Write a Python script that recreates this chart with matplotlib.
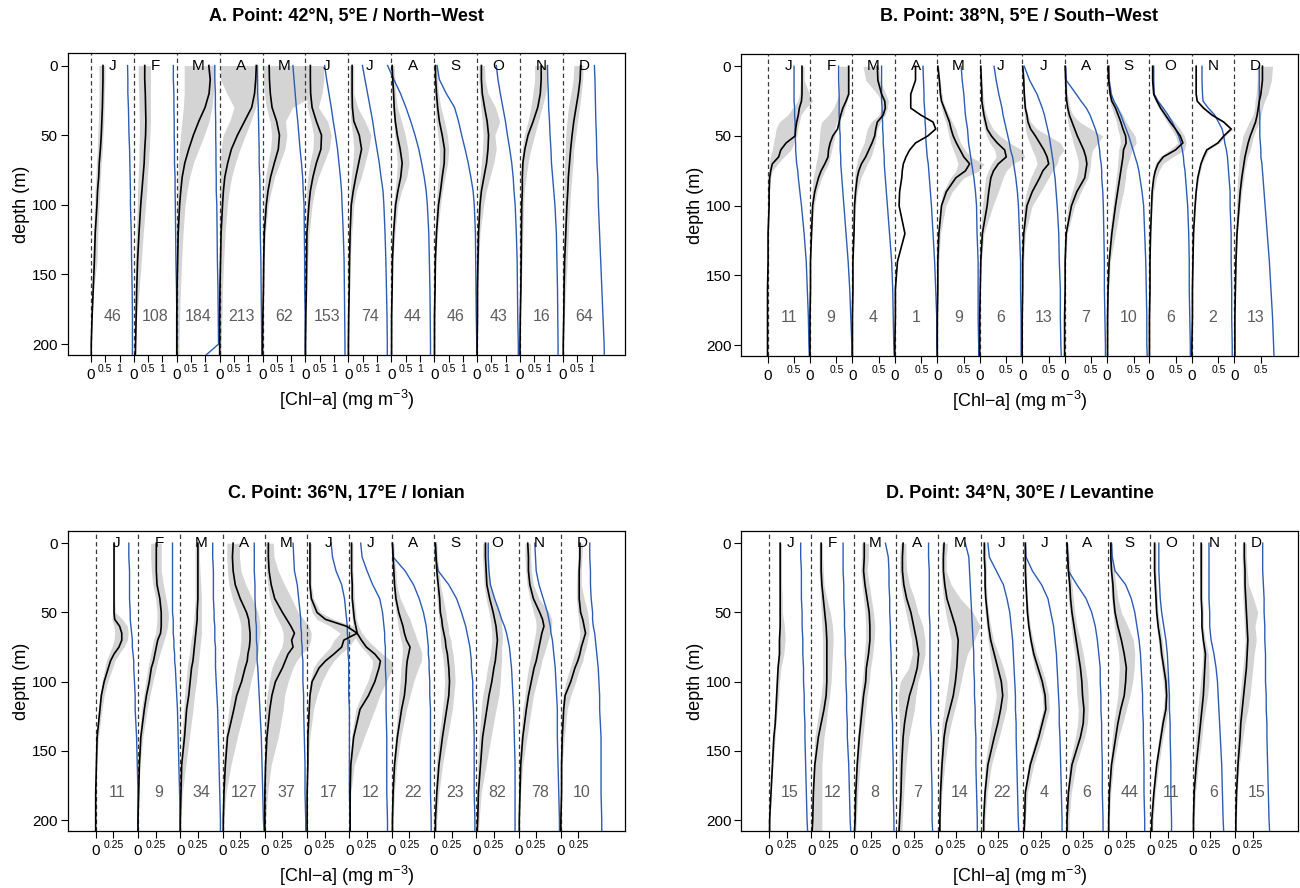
import matplotlib
matplotlib.use("Agg")
import matplotlib.pyplot as plt
import numpy as np

plt.rcParams['font.family'] = ['Liberation Sans', 'DejaVu Sans']
plt.rcParams['mathtext.default'] = 'regular'

months = ['J', 'F', 'M', 'A', 'M', 'J', 'J', 'A', 'S', 'O', 'N', 'D']

titles = ['A. Point: 42°N, 5°E / North\u2212West',
          'B. Point: 38°N, 5°E / South\u2212West',
          'C. Point: 36°N, 17°E / Ionian',
          'D. Point: 34°N, 30°E / Levantine']

counts_A = [46, 108, 184, 213, 62, 153, 74, 44, 46, 43, 16, 64]
counts_B = [11, 9, 4, 1, 9, 6, 13, 7, 10, 6, 2, 13]
counts_C = [11, 9, 34, 127, 37, 17, 12, 22, 23, 82, 78, 10]
counts_D = [15, 12, 8, 7, 14, 22, 4, 6, 44, 11, 6, 15]

# ---------------- Panel A ----------------
depth_A = [0, 10, 20, 30, 40, 50, 60, 70, 80, 90, 100, 120, 140, 160, 180, 200, 210]
mean_A = [
    [0.42, 0.42, 0.41, 0.40, 0.38, 0.36, 0.33, 0.29, 0.27, 0.23, 0.21, 0.15, 0.12, 0.08, 0.04, 0.01, 0.01],
    [0.38, 0.38, 0.40, 0.41, 0.42, 0.41, 0.38, 0.36, 0.32, 0.28, 0.24, 0.18, 0.13, 0.10, 0.08, 0.06, 0.05],
    [1.12, 1.17, 1.13, 0.99, 0.77, 0.58, 0.42, 0.28, 0.19, 0.14, 0.10, 0.05, 0.03, 0.01, 0.0, 0.0, 0.0],
    [1.28, 1.26, 1.22, 1.12, 0.87, 0.62, 0.41, 0.28, 0.18, 0.13, 0.10, 0.05, 0.03, 0.01, 0.0, 0.0, 0.0],
    [0.23, 0.24, 0.27, 0.33, 0.49, 0.59, 0.55, 0.41, 0.28, 0.19, 0.13, 0.06, 0.04, 0.03, 0.01, 0.0, 0.0],
    [0.17, 0.17, 0.18, 0.23, 0.38, 0.56, 0.54, 0.38, 0.26, 0.17, 0.12, 0.05, 0.04, 0.03, 0.01, 0.0, 0.0],
    [0.13, 0.13, 0.13, 0.14, 0.19, 0.38, 0.46, 0.36, 0.26, 0.17, 0.10, 0.06, 0.04, 0.03, 0.01, 0.0, 0.0],
    [0.03, 0.05, 0.08, 0.10, 0.14, 0.21, 0.31, 0.38, 0.33, 0.23, 0.15, 0.08, 0.04, 0.03, 0.01, 0.01, 0.01],
    [0.04, 0.05, 0.08, 0.12, 0.18, 0.28, 0.36, 0.35, 0.28, 0.22, 0.15, 0.08, 0.04, 0.03, 0.01, 0.01, 0.01],
    [0.15, 0.15, 0.18, 0.26, 0.35, 0.40, 0.38, 0.33, 0.24, 0.15, 0.10, 0.05, 0.03, 0.01, 0.01, 0.0, 0.0],
    [0.74, 0.74, 0.71, 0.62, 0.46, 0.28, 0.17, 0.10, 0.08, 0.08, 0.06, 0.05, 0.04, 0.03, 0.01, 0.0, 0.0],
    [0.62, 0.60, 0.54, 0.46, 0.38, 0.32, 0.27, 0.23, 0.19, 0.17, 0.14, 0.10, 0.06, 0.04, 0.03, 0.01, 0.01],
]
lo_A = [
    [0.28, 0.28, 0.28, 0.27, 0.26, 0.24, 0.22, 0.19, 0.17, 0.14, 0.13, 0.09, 0.05, 0.03, 0.01, 0, 0],
    [0.15, 0.15, 0.17, 0.18, 0.19, 0.19, 0.18, 0.17, 0.15, 0.13, 0.12, 0.08, 0.05, 0.04, 0.03, 0.03, 0.03],
    [0.26, 0.26, 0.26, 0.23, 0.18, 0.13, 0.09, 0.06, 0.04, 0.03, 0.01, 0, 0, 0, 0, 0, 0],
    [0.03, 0.03, 0.25, 0.50, 0.35, 0.12, 0.05, 0.03, 0.01, 0.01, 0, 0, 0, 0, 0, 0, 0],
    [0.03, 0.03, 0.06, 0.13, 0.26, 0.32, 0.28, 0.19, 0.10, 0.06, 0.04, 0.01, 0, 0, 0, 0, 0],
    [0, 0, 0.03, 0.06, 0.19, 0.28, 0.26, 0.15, 0.08, 0.04, 0.03, 0.01, 0.01, 0, 0, 0, 0],
    [0.04, 0.04, 0.04, 0.05, 0.08, 0.15, 0.19, 0.15, 0.10, 0.06, 0.04, 0.03, 0.01, 0.01, 0, 0, 0],
    [0, 0, 0.03, 0.05, 0.08, 0.12, 0.17, 0.21, 0.18, 0.13, 0.08, 0.04, 0.01, 0.01, 0, 0, 0],
    [0, 0, 0.01, 0.04, 0.06, 0.13, 0.18, 0.18, 0.14, 0.10, 0.06, 0.03, 0.01, 0, 0, 0, 0],
    [0.06, 0.06, 0.09, 0.13, 0.18, 0.21, 0.19, 0.15, 0.10, 0.06, 0.04, 0.01, 0, 0, 0, 0, 0],
    [0.51, 0.51, 0.45, 0.38, 0.28, 0.15, 0.08, 0.04, 0.03, 0.03, 0.01, 0, 0, 0, 0, 0, 0],
    [0.38, 0.36, 0.28, 0.19, 0.14, 0.10, 0.08, 0.06, 0.05, 0.04, 0.04, 0.03, 0.01, 0, 0, 0, 0],
]
hi_A = [
    [0.49, 0.49, 0.47, 0.46, 0.45, 0.42, 0.40, 0.36, 0.33, 0.31, 0.28, 0.24, 0.21, 0.10, 0.04, 0.01, 0.01],
    [0.58, 0.58, 0.58, 0.58, 0.58, 0.56, 0.54, 0.51, 0.47, 0.45, 0.41, 0.33, 0.26, 0.19, 0.10, 0.06, 0.06],
    [1.31, 1.31, 1.28, 1.23, 1.13, 0.96, 0.77, 0.58, 0.45, 0.36, 0.29, 0.22, 0.17, 0.13, 0.10, 0.08, 0.08],
    [1.35, 1.35, 1.32, 1.26, 1.09, 0.90, 0.71, 0.55, 0.42, 0.33, 0.27, 0.19, 0.14, 0.10, 0.08, 0.05, 0.05],
    [2.12, 2.12, 1.92, 1.05, 0.80, 0.85, 0.78, 0.60, 0.42, 0.30, 0.20, 0.10, 0.06, 0.04, 0.03, 0.01, 0.01],
    [0.64, 0.64, 0.58, 0.45, 0.77, 0.90, 0.83, 0.64, 0.45, 0.32, 0.23, 0.13, 0.08, 0.05, 0.03, 0.01, 0.01],
    [0.19, 0.19, 0.19, 0.32, 0.58, 0.79, 0.71, 0.58, 0.45, 0.28, 0.19, 0.12, 0.06, 0.04, 0.03, 0.01, 0.01],
    [0.10, 0.13, 0.15, 0.21, 0.36, 0.49, 0.58, 0.62, 0.54, 0.36, 0.23, 0.13, 0.06, 0.04, 0.03, 0.01, 0.01],
    [0.10, 0.12, 0.15, 0.23, 0.36, 0.46, 0.51, 0.47, 0.38, 0.29, 0.22, 0.12, 0.06, 0.04, 0.03, 0.01, 0.01],
    [0.26, 0.28, 0.38, 0.64, 0.79, 0.62, 0.67, 0.58, 0.45, 0.32, 0.23, 0.10, 0.06, 0.04, 0.03, 0.01, 0.01],
    [0.96, 0.96, 0.90, 0.77, 0.64, 0.51, 0.38, 0.28, 0.21, 0.15, 0.13, 0.10, 0.08, 0.04, 0.01, 0, 0],
    [0.71, 0.69, 0.64, 0.58, 0.51, 0.45, 0.38, 0.35, 0.31, 0.27, 0.24, 0.19, 0.15, 0.10, 0.05, 0.03, 0.03],
]
blue_A = [
    [1.28, 1.29, 1.29, 1.31, 1.32, 1.33, 1.35, 1.36, 1.37, 1.38, 1.38, 1.41, 1.42, 1.44, 1.45, 1.45, 1.45],
    [1.38, 1.38, 1.40, 1.40, 1.41, 1.41, 1.42, 1.42, 1.44, 1.44, 1.45, 1.46, 1.47, 1.49, 1.50, 1.51, 1.51],
    [1.33, 1.33, 1.35, 1.35, 1.36, 1.36, 1.37, 1.37, 1.38, 1.38, 1.40, 1.41, 1.42, 1.44, 1.45, 1.46, 0.90],
    [1.31, 1.32, 1.33, 1.35, 1.36, 1.37, 1.38, 1.38, 1.40, 1.41, 1.41, 1.42, 1.44, 1.45, 1.46, 1.47, 1.47],
    [1.06, 1.10, 1.14, 1.18, 1.23, 1.27, 1.31, 1.36, 1.40, 1.42, 1.45, 1.46, 1.47, 1.47, 1.49, 1.49, 1.49],
    [0.67, 0.74, 0.82, 0.90, 0.97, 1.05, 1.12, 1.17, 1.22, 1.26, 1.28, 1.32, 1.35, 1.36, 1.37, 1.38, 1.38],
    [0.49, 0.58, 0.67, 0.76, 0.85, 0.92, 1.00, 1.08, 1.14, 1.21, 1.24, 1.28, 1.31, 1.33, 1.35, 1.36, 1.36],
    [-0.13, 0.09, 0.32, 0.51, 0.68, 0.83, 0.96, 1.06, 1.15, 1.22, 1.26, 1.31, 1.33, 1.35, 1.36, 1.37, 1.37],
    [0.10, 0.18, 0.42, 0.71, 0.85, 0.96, 1.08, 1.19, 1.28, 1.36, 1.40, 1.44, 1.45, 1.46, 1.47, 1.49, 1.49],
    [0.67, 0.73, 0.81, 0.90, 0.99, 1.06, 1.14, 1.21, 1.26, 1.29, 1.33, 1.37, 1.40, 1.41, 1.42, 1.44, 1.44],
    [0.96, 0.97, 0.99, 1.00, 1.03, 1.05, 1.08, 1.10, 1.14, 1.18, 1.22, 1.27, 1.29, 1.31, 1.32, 1.33, 1.33],
    [1.10, 1.12, 1.13, 1.14, 1.15, 1.17, 1.18, 1.19, 1.22, 1.23, 1.24, 1.28, 1.32, 1.36, 1.40, 1.44, 1.45],
]

# ---------------- Panel B ----------------
depth_B = [0, 10, 20, 25, 30, 35, 40, 45, 50, 55, 60, 65, 70, 75, 80, 90, 100, 120, 140, 160, 180, 200, 210]
mean_B = [
    [0.65, 0.65, 0.65, 0.64, 0.60, 0.58, 0.55, 0.53, 0.52, 0.35, 0.25, 0.21, 0.09, 0.06, 0.04, 0.03, 0.03, 0.01, 0.01, 0, 0, 0, 0],
    [0.73, 0.73, 0.73, 0.68, 0.62, 0.58, 0.55, 0.52, 0.43, 0.38, 0.35, 0.34, 0.28, 0.21, 0.16, 0.09, 0.05, 0.03, 0.01, 0.01, 0, 0, 0],
    [0.47, 0.48, 0.55, 0.61, 0.62, 0.58, 0.47, 0.44, 0.42, 0.37, 0.31, 0.25, 0.17, 0.12, 0.09, 0.06, 0.04, 0.03, 0.01, 0.01, 0, 0, 0],
    [0.39, 0.39, 0.30, 0.30, 0.30, 0.49, 0.72, 0.77, 0.62, 0.39, 0.28, 0.21, 0.16, 0.14, 0.13, 0.09, 0.08, 0.19, 0.05, 0.01, 0.01, 0, 0],
    [0.01, 0.04, 0.06, 0.08, 0.13, 0.18, 0.23, 0.26, 0.30, 0.36, 0.43, 0.50, 0.61, 0.53, 0.35, 0.17, 0.08, 0.03, 0.01, 0.01, 0, 0, 0],
    [0.02, 0.03, 0.04, 0.04, 0.06, 0.08, 0.11, 0.14, 0.22, 0.33, 0.47, 0.50, 0.35, 0.26, 0.21, 0.17, 0.14, 0.05, 0.02, 0.01, 0, 0, 0],
    [0.01, 0.03, 0.04, 0.05, 0.06, 0.09, 0.11, 0.16, 0.25, 0.33, 0.41, 0.47, 0.50, 0.39, 0.33, 0.19, 0.09, 0.03, 0.01, 0.01, 0, 0, 0],
    [0.01, 0.02, 0.03, 0.04, 0.06, 0.09, 0.14, 0.19, 0.24, 0.30, 0.36, 0.40, 0.42, 0.40, 0.38, 0.23, 0.13, 0.03, 0.01, 0.01, 0, 0, 0],
    [0.02, 0.03, 0.06, 0.09, 0.16, 0.21, 0.26, 0.30, 0.35, 0.36, 0.31, 0.30, 0.28, 0.26, 0.24, 0.20, 0.16, 0.09, 0.04, 0.02, 0.01, 0.01, 0.01],
    [0.06, 0.06, 0.08, 0.14, 0.21, 0.30, 0.39, 0.49, 0.58, 0.63, 0.49, 0.26, 0.16, 0.11, 0.08, 0.05, 0.04, 0.02, 0.01, 0.01, 0, 0, 0],
    [0.08, 0.08, 0.08, 0.10, 0.22, 0.38, 0.60, 0.74, 0.60, 0.49, 0.28, 0.22, 0.17, 0.14, 0.11, 0.08, 0.06, 0.03, 0.02, 0.01, 0.01, 0, 0],
    [0.53, 0.53, 0.50, 0.47, 0.45, 0.43, 0.40, 0.35, 0.30, 0.26, 0.23, 0.20, 0.18, 0.16, 0.14, 0.11, 0.09, 0.05, 0.03, 0.02, 0.01, 0.01, 0.01],
]
lo_B = [
    [0.62, 0.62, 0.60, 0.57, 0.47, 0.38, 0.22, 0.16, 0.14, 0.11, 0.09, 0.05, 0.03, 0.02, 0.01, 0.01, 0, 0, 0, 0, 0, 0, 0],
    [0.55, 0.55, 0.55, 0.50, 0.44, 0.35, 0.22, 0.19, 0.18, 0.17, 0.16, 0.14, 0.11, 0.09, 0.06, 0.04, 0.03, 0.01, 0.01, 0, 0, 0, 0],
    [0.20, 0.25, 0.47, 0.55, 0.55, 0.50, 0.35, 0.28, 0.25, 0.22, 0.16, 0.11, 0.08, 0.05, 0.04, 0.03, 0.02, 0.01, 0.01, 0, 0, 0, 0],
    [0.39, 0.39, 0.30, 0.30, 0.30, 0.49, 0.72, 0.77, 0.62, 0.39, 0.28, 0.21, 0.16, 0.14, 0.13, 0.09, 0.08, 0.19, 0.05, 0.01, 0.01, 0, 0],
    [0, 0.01, 0.03, 0.05, 0.08, 0.11, 0.16, 0.19, 0.22, 0.25, 0.30, 0.35, 0.39, 0.35, 0.25, 0.11, 0.05, 0.02, 0.01, 0, 0, 0, 0],
    [0, 0.01, 0.02, 0.03, 0.03, 0.04, 0.06, 0.09, 0.13, 0.19, 0.28, 0.31, 0.22, 0.16, 0.11, 0.08, 0.05, 0.02, 0.01, 0, 0, 0, 0],
    [0, 0.01, 0.01, 0.02, 0.03, 0.04, 0.05, 0.06, 0.09, 0.14, 0.19, 0.25, 0.28, 0.22, 0.16, 0.08, 0.03, 0.01, 0.01, 0, 0, 0, 0],
    [0, 0.01, 0.01, 0.02, 0.03, 0.04, 0.06, 0.09, 0.13, 0.16, 0.20, 0.24, 0.26, 0.25, 0.22, 0.14, 0.06, 0.01, 0.01, 0, 0, 0, 0],
    [0.01, 0.01, 0.03, 0.05, 0.09, 0.13, 0.18, 0.20, 0.24, 0.25, 0.22, 0.21, 0.20, 0.19, 0.17, 0.14, 0.11, 0.05, 0.02, 0.01, 0.01, 0, 0],
    [0.05, 0.05, 0.06, 0.11, 0.18, 0.25, 0.33, 0.41, 0.49, 0.53, 0.38, 0.19, 0.11, 0.08, 0.06, 0.04, 0.03, 0.01, 0.01, 0, 0, 0, 0],
    [0.07, 0.07, 0.07, 0.09, 0.19, 0.35, 0.57, 0.71, 0.57, 0.46, 0.25, 0.19, 0.15, 0.12, 0.10, 0.07, 0.06, 0.03, 0.01, 0.01, 0, 0, 0],
    [0.43, 0.43, 0.41, 0.39, 0.38, 0.35, 0.28, 0.22, 0.16, 0.14, 0.11, 0.09, 0.08, 0.08, 0.06, 0.05, 0.04, 0.02, 0.01, 0.01, 0, 0, 0],
]
hi_B = [
    [0.69, 0.69, 0.79, 0.85, 0.72, 0.63, 0.60, 0.57, 0.55, 0.50, 0.44, 0.31, 0.19, 0.09, 0.06, 0.04, 0.03, 0.02, 0.01, 0, 0, 0, 0],
    [0.74, 0.74, 0.74, 0.70, 0.66, 0.63, 0.50, 0.47, 0.47, 0.44, 0.41, 0.38, 0.35, 0.28, 0.22, 0.13, 0.08, 0.03, 0.01, 0.01, 0, 0, 0],
    [0.50, 0.52, 0.63, 0.68, 0.66, 0.62, 0.53, 0.47, 0.45, 0.43, 0.39, 0.35, 0.28, 0.22, 0.16, 0.09, 0.06, 0.03, 0.01, 0.01, 0, 0, 0],
    [0.39, 0.39, 0.30, 0.30, 0.30, 0.49, 0.72, 0.77, 0.62, 0.39, 0.28, 0.21, 0.16, 0.14, 0.13, 0.09, 0.08, 0.19, 0.05, 0.01, 0.01, 0, 0],
    [0.03, 0.05, 0.09, 0.11, 0.16, 0.22, 0.28, 0.35, 0.39, 0.44, 0.52, 0.63, 0.88, 0.79, 0.50, 0.28, 0.16, 0.06, 0.03, 0.01, 0.01, 0, 0],
    [0.03, 0.04, 0.06, 0.08, 0.09, 0.13, 0.18, 0.25, 0.38, 0.57, 0.79, 0.85, 0.63, 0.50, 0.44, 0.35, 0.25, 0.08, 0.03, 0.01, 0.01, 0, 0],
    [0.03, 0.04, 0.05, 0.06, 0.08, 0.11, 0.16, 0.28, 0.50, 0.72, 0.79, 0.69, 0.66, 0.57, 0.50, 0.35, 0.19, 0.06, 0.03, 0.01, 0.01, 0, 0],
    [0.03, 0.04, 0.05, 0.08, 0.10, 0.16, 0.28, 0.50, 0.72, 0.63, 0.53, 0.50, 0.49, 0.47, 0.44, 0.31, 0.19, 0.05, 0.02, 0.01, 0, 0, 0],
    [0.03, 0.05, 0.09, 0.14, 0.22, 0.30, 0.36, 0.44, 0.53, 0.55, 0.47, 0.43, 0.39, 0.36, 0.35, 0.31, 0.25, 0.16, 0.06, 0.03, 0.02, 0.01, 0.01],
    [0.08, 0.08, 0.09, 0.18, 0.26, 0.36, 0.47, 0.58, 0.66, 0.69, 0.66, 0.44, 0.25, 0.18, 0.13, 0.08, 0.05, 0.03, 0.01, 0.01, 0, 0, 0],
    [0.09, 0.09, 0.09, 0.11, 0.25, 0.42, 0.63, 0.77, 0.63, 0.52, 0.31, 0.25, 0.19, 0.16, 0.13, 0.09, 0.07, 0.04, 0.02, 0.01, 0.01, 0, 0],
    [0.72, 0.70, 0.63, 0.57, 0.53, 0.50, 0.47, 0.41, 0.36, 0.33, 0.30, 0.25, 0.22, 0.19, 0.18, 0.14, 0.11, 0.06, 0.04, 0.02, 0.01, 0.01, 0.01],
]
blue_B = [
    [0.50, 0.50, 0.50, 0.50, 0.51, 0.51, 0.52, 0.52, 0.52, 0.53, 0.53, 0.54, 0.55, 0.57, 0.58, 0.61, 0.64, 0.69, 0.73, 0.75, 0.77, 0.78, 0.79],
    [0.54, 0.54, 0.55, 0.55, 0.55, 0.55, 0.56, 0.56, 0.57, 0.57, 0.57, 0.58, 0.58, 0.59, 0.60, 0.62, 0.64, 0.68, 0.72, 0.75, 0.77, 0.79, 0.79],
    [0.55, 0.55, 0.55, 0.55, 0.56, 0.56, 0.57, 0.57, 0.58, 0.58, 0.59, 0.60, 0.60, 0.61, 0.62, 0.64, 0.66, 0.70, 0.74, 0.76, 0.77, 0.78, 0.79],
    [0.53, 0.54, 0.55, 0.55, 0.56, 0.57, 0.57, 0.58, 0.58, 0.59, 0.60, 0.61, 0.63, 0.64, 0.65, 0.67, 0.69, 0.72, 0.75, 0.77, 0.79, 0.79, 0.80],
    [0.45, 0.47, 0.50, 0.51, 0.52, 0.53, 0.55, 0.57, 0.58, 0.59, 0.61, 0.63, 0.65, 0.67, 0.69, 0.72, 0.74, 0.75, 0.77, 0.77, 0.77, 0.78, 0.78],
    [0.27, 0.31, 0.36, 0.39, 0.42, 0.44, 0.47, 0.50, 0.53, 0.56, 0.58, 0.62, 0.64, 0.66, 0.68, 0.71, 0.73, 0.75, 0.77, 0.77, 0.78, 0.78, 0.78],
    [0.04, 0.14, 0.28, 0.33, 0.38, 0.42, 0.45, 0.48, 0.51, 0.53, 0.55, 0.57, 0.59, 0.60, 0.62, 0.64, 0.66, 0.69, 0.70, 0.72, 0.72, 0.73, 0.74],
    [0.02, 0.03, 0.22, 0.31, 0.41, 0.48, 0.53, 0.58, 0.62, 0.64, 0.66, 0.67, 0.69, 0.70, 0.70, 0.72, 0.73, 0.74, 0.75, 0.75, 0.76, 0.77, 0.77],
    [0.04, 0.04, 0.08, 0.13, 0.20, 0.26, 0.31, 0.36, 0.41, 0.45, 0.49, 0.53, 0.57, 0.60, 0.62, 0.66, 0.69, 0.71, 0.73, 0.74, 0.75, 0.75, 0.76],
    [0.08, 0.08, 0.09, 0.16, 0.26, 0.35, 0.43, 0.49, 0.55, 0.59, 0.62, 0.64, 0.65, 0.67, 0.68, 0.70, 0.72, 0.74, 0.75, 0.75, 0.76, 0.77, 0.77],
    [0.19, 0.19, 0.20, 0.21, 0.31, 0.43, 0.50, 0.57, 0.60, 0.62, 0.65, 0.67, 0.68, 0.69, 0.70, 0.72, 0.72, 0.74, 0.74, 0.75, 0.75, 0.76, 0.76],
    [0.47, 0.47, 0.47, 0.47, 0.47, 0.48, 0.48, 0.48, 0.48, 0.49, 0.50, 0.50, 0.52, 0.53, 0.54, 0.56, 0.58, 0.62, 0.66, 0.69, 0.72, 0.74, 0.75],
]

# ---------------- Panel C ----------------
depth_C = [0, 10, 20, 30, 40, 50, 55, 60, 65, 70, 75, 80, 85, 90, 100, 110, 120, 140, 160, 180, 200, 210]
mean_C = [
    [0.26, 0.26, 0.26, 0.26, 0.26, 0.26, 0.27, 0.34, 0.37, 0.37, 0.33, 0.26, 0.21, 0.18, 0.12, 0.08, 0.06, 0.02, 0.01, 0, 0, 0],
    [0.26, 0.26, 0.26, 0.27, 0.31, 0.33, 0.33, 0.33, 0.32, 0.28, 0.26, 0.24, 0.22, 0.19, 0.16, 0.12, 0.09, 0.04, 0.02, 0.01, 0, 0],
    [0.25, 0.25, 0.25, 0.25, 0.25, 0.24, 0.24, 0.23, 0.22, 0.21, 0.20, 0.19, 0.18, 0.16, 0.14, 0.12, 0.09, 0.06, 0.02, 0.01, 0, 0],
    [0.15, 0.14, 0.15, 0.18, 0.25, 0.34, 0.37, 0.38, 0.39, 0.39, 0.38, 0.36, 0.35, 0.32, 0.27, 0.20, 0.16, 0.07, 0.04, 0.02, 0.01, 0.01],
    [0.05, 0.05, 0.06, 0.09, 0.14, 0.25, 0.31, 0.37, 0.42, 0.38, 0.40, 0.33, 0.29, 0.25, 0.15, 0.10, 0.07, 0.03, 0.01, 0, 0, 0],
    [0.04, 0.04, 0.04, 0.04, 0.06, 0.14, 0.26, 0.56, 0.71, 0.52, 0.49, 0.38, 0.26, 0.17, 0.07, 0.04, 0.03, 0.01, 0.01, 0, 0, 0],
    [0.03, 0.03, 0.03, 0.04, 0.04, 0.06, 0.07, 0.09, 0.11, 0.17, 0.24, 0.36, 0.44, 0.42, 0.36, 0.27, 0.15, 0.06, 0.02, 0.01, 0.01, 0.01],
    [0.01, 0.02, 0.03, 0.04, 0.06, 0.10, 0.13, 0.16, 0.18, 0.21, 0.26, 0.24, 0.22, 0.21, 0.20, 0.18, 0.14, 0.08, 0.04, 0.02, 0.01, 0.01],
    [0.02, 0.03, 0.04, 0.06, 0.08, 0.09, 0.11, 0.12, 0.14, 0.16, 0.17, 0.19, 0.20, 0.21, 0.22, 0.21, 0.18, 0.12, 0.07, 0.04, 0.02, 0.02],
    [0.13, 0.13, 0.14, 0.15, 0.19, 0.24, 0.26, 0.28, 0.29, 0.30, 0.29, 0.28, 0.27, 0.25, 0.22, 0.18, 0.15, 0.09, 0.06, 0.03, 0.02, 0.01],
    [0.13, 0.14, 0.14, 0.16, 0.21, 0.30, 0.34, 0.36, 0.33, 0.31, 0.29, 0.27, 0.25, 0.22, 0.18, 0.14, 0.11, 0.06, 0.03, 0.02, 0.01, 0.01],
    [0.27, 0.27, 0.26, 0.26, 0.26, 0.28, 0.31, 0.33, 0.35, 0.32, 0.29, 0.27, 0.24, 0.20, 0.14, 0.06, 0.04, 0.02, 0.01, 0.01, 0, 0],
]
lo_C = [
    [0.25, 0.25, 0.25, 0.25, 0.25, 0.24, 0.23, 0.26, 0.27, 0.26, 0.23, 0.19, 0.15, 0.13, 0.09, 0.06, 0.04, 0.01, 0, 0, 0, 0],
    [0.18, 0.18, 0.19, 0.21, 0.25, 0.27, 0.27, 0.26, 0.25, 0.22, 0.20, 0.18, 0.16, 0.14, 0.11, 0.08, 0.05, 0.02, 0.01, 0, 0, 0],
    [0.21, 0.21, 0.21, 0.21, 0.21, 0.20, 0.19, 0.18, 0.17, 0.15, 0.14, 0.13, 0.11, 0.10, 0.08, 0.06, 0.05, 0.02, 0.01, 0, 0, 0],
    [0.06, 0.06, 0.07, 0.09, 0.14, 0.21, 0.24, 0.26, 0.26, 0.26, 0.25, 0.24, 0.21, 0.19, 0.15, 0.12, 0.09, 0.04, 0.01, 0, 0, 0],
    [0.01, 0.01, 0.02, 0.04, 0.07, 0.13, 0.18, 0.23, 0.26, 0.26, 0.24, 0.19, 0.14, 0.10, 0.06, 0.03, 0.01, 0, 0, 0, 0, 0],
    [0.02, 0.02, 0.02, 0.02, 0.03, 0.07, 0.14, 0.33, 0.47, 0.38, 0.33, 0.24, 0.15, 0.09, 0.04, 0.02, 0.01, 0, 0, 0, 0, 0],
    [0.01, 0.01, 0.02, 0.02, 0.02, 0.03, 0.04, 0.05, 0.07, 0.10, 0.17, 0.26, 0.33, 0.32, 0.26, 0.17, 0.09, 0.03, 0.01, 0, 0, 0],
    [0, 0.01, 0.01, 0.02, 0.03, 0.06, 0.08, 0.09, 0.11, 0.13, 0.15, 0.15, 0.14, 0.13, 0.12, 0.10, 0.09, 0.05, 0.02, 0.01, 0, 0],
    [0, 0.01, 0.02, 0.03, 0.04, 0.06, 0.07, 0.08, 0.09, 0.09, 0.10, 0.12, 0.13, 0.14, 0.15, 0.14, 0.12, 0.07, 0.03, 0.02, 0.01, 0.01],
    [0.09, 0.09, 0.10, 0.11, 0.14, 0.18, 0.20, 0.21, 0.22, 0.22, 0.21, 0.20, 0.18, 0.16, 0.13, 0.09, 0.07, 0.04, 0.02, 0.01, 0, 0],
    [0.09, 0.09, 0.10, 0.12, 0.16, 0.21, 0.24, 0.25, 0.24, 0.22, 0.20, 0.18, 0.16, 0.14, 0.11, 0.09, 0.06, 0.03, 0.01, 0, 0, 0],
    [0.24, 0.24, 0.23, 0.22, 0.22, 0.24, 0.25, 0.26, 0.27, 0.26, 0.23, 0.19, 0.16, 0.13, 0.07, 0.03, 0.02, 0.01, 0.01, 0, 0, 0],
]
hi_C = [
    [0.27, 0.27, 0.27, 0.27, 0.27, 0.28, 0.38, 0.45, 0.46, 0.45, 0.40, 0.33, 0.27, 0.24, 0.17, 0.12, 0.09, 0.04, 0.01, 0, 0, 0],
    [0.33, 0.33, 0.33, 0.36, 0.40, 0.43, 0.43, 0.42, 0.40, 0.37, 0.34, 0.31, 0.28, 0.26, 0.21, 0.17, 0.13, 0.07, 0.03, 0.01, 0, 0],
    [0.27, 0.27, 0.28, 0.29, 0.30, 0.30, 0.30, 0.30, 0.30, 0.29, 0.28, 0.27, 0.26, 0.25, 0.23, 0.20, 0.18, 0.13, 0.08, 0.03, 0.01, 0.01],
    [0.24, 0.24, 0.26, 0.33, 0.42, 0.50, 0.52, 0.53, 0.53, 0.52, 0.51, 0.50, 0.47, 0.45, 0.40, 0.36, 0.31, 0.21, 0.12, 0.05, 0.02, 0.01],
    [0.12, 0.13, 0.19, 0.28, 0.38, 0.47, 0.55, 0.62, 0.66, 0.65, 0.62, 0.52, 0.45, 0.40, 0.33, 0.28, 0.26, 0.19, 0.09, 0.04, 0.01, 0.01],
    [0.06, 0.06, 0.06, 0.06, 0.09, 0.19, 0.38, 0.66, 0.73, 0.66, 0.59, 0.47, 0.38, 0.31, 0.21, 0.14, 0.09, 0.04, 0.01, 0, 0, 0],
    [0.05, 0.05, 0.05, 0.06, 0.07, 0.09, 0.10, 0.13, 0.18, 0.26, 0.36, 0.47, 0.59, 0.62, 0.52, 0.43, 0.36, 0.21, 0.07, 0.02, 0.01, 0.01],
    [0.03, 0.04, 0.06, 0.07, 0.12, 0.21, 0.26, 0.29, 0.33, 0.36, 0.40, 0.43, 0.42, 0.38, 0.31, 0.26, 0.21, 0.13, 0.07, 0.04, 0.02, 0.02],
    [0.04, 0.05, 0.07, 0.09, 0.13, 0.17, 0.18, 0.20, 0.21, 0.24, 0.25, 0.27, 0.28, 0.29, 0.30, 0.28, 0.26, 0.19, 0.12, 0.07, 0.04, 0.03],
    [0.17, 0.17, 0.18, 0.20, 0.26, 0.32, 0.35, 0.36, 0.37, 0.37, 0.36, 0.36, 0.36, 0.35, 0.34, 0.32, 0.28, 0.21, 0.14, 0.07, 0.04, 0.03],
    [0.17, 0.17, 0.18, 0.21, 0.29, 0.43, 0.47, 0.47, 0.45, 0.42, 0.39, 0.36, 0.33, 0.31, 0.26, 0.21, 0.18, 0.12, 0.06, 0.03, 0.01, 0.01],
    [0.31, 0.30, 0.29, 0.29, 0.33, 0.38, 0.39, 0.40, 0.40, 0.38, 0.36, 0.33, 0.31, 0.27, 0.21, 0.14, 0.09, 0.05, 0.02, 0.01, 0.01, 0.01],
]
blue_C = [
    [0.47, 0.47, 0.48, 0.48, 0.48, 0.49, 0.49, 0.50, 0.51, 0.52, 0.52, 0.53, 0.54, 0.54, 0.55, 0.56, 0.56, 0.58, 0.59, 0.60, 0.60, 0.60],
    [0.49, 0.49, 0.49, 0.49, 0.49, 0.49, 0.50, 0.50, 0.50, 0.51, 0.51, 0.52, 0.52, 0.53, 0.54, 0.55, 0.56, 0.57, 0.58, 0.59, 0.60, 0.60],
    [0.46, 0.46, 0.47, 0.47, 0.47, 0.48, 0.48, 0.49, 0.49, 0.49, 0.50, 0.50, 0.50, 0.50, 0.51, 0.52, 0.53, 0.54, 0.55, 0.56, 0.57, 0.57],
    [0.45, 0.45, 0.45, 0.46, 0.46, 0.47, 0.47, 0.48, 0.48, 0.48, 0.49, 0.49, 0.49, 0.50, 0.51, 0.52, 0.53, 0.55, 0.56, 0.57, 0.58, 0.59],
    [0.40, 0.41, 0.42, 0.46, 0.48, 0.50, 0.51, 0.51, 0.52, 0.52, 0.53, 0.53, 0.54, 0.54, 0.54, 0.55, 0.55, 0.56, 0.57, 0.57, 0.58, 0.58],
    [0.34, 0.36, 0.41, 0.49, 0.53, 0.55, 0.56, 0.57, 0.57, 0.58, 0.58, 0.58, 0.59, 0.59, 0.59, 0.59, 0.60, 0.60, 0.60, 0.60, 0.61, 0.61],
    [0.16, 0.18, 0.25, 0.33, 0.43, 0.47, 0.48, 0.49, 0.50, 0.50, 0.51, 0.51, 0.51, 0.51, 0.52, 0.52, 0.52, 0.53, 0.53, 0.53, 0.54, 0.54],
    [0.01, 0.02, 0.19, 0.31, 0.39, 0.45, 0.47, 0.49, 0.50, 0.51, 0.52, 0.52, 0.53, 0.53, 0.54, 0.54, 0.55, 0.55, 0.55, 0.55, 0.56, 0.56],
    [0.02, 0.02, 0.06, 0.21, 0.32, 0.39, 0.42, 0.45, 0.47, 0.49, 0.51, 0.52, 0.53, 0.53, 0.55, 0.55, 0.56, 0.57, 0.57, 0.57, 0.58, 0.58],
    [0.17, 0.17, 0.18, 0.20, 0.26, 0.33, 0.36, 0.40, 0.43, 0.45, 0.47, 0.48, 0.49, 0.50, 0.51, 0.52, 0.53, 0.54, 0.55, 0.55, 0.55, 0.55],
    [0.23, 0.24, 0.25, 0.29, 0.35, 0.41, 0.43, 0.45, 0.46, 0.48, 0.49, 0.50, 0.51, 0.52, 0.53, 0.54, 0.55, 0.55, 0.56, 0.57, 0.58, 0.58],
    [0.41, 0.41, 0.42, 0.42, 0.43, 0.45, 0.45, 0.46, 0.48, 0.49, 0.50, 0.51, 0.52, 0.53, 0.54, 0.55, 0.55, 0.57, 0.57, 0.57, 0.58, 0.58],
]

# ---------------- Panel D ----------------
depth_D = [0, 10, 20, 30, 40, 50, 60, 70, 80, 90, 100, 110, 120, 130, 140, 160, 180, 200, 210]
mean_D = [
    [0.16, 0.16, 0.16, 0.16, 0.16, 0.16, 0.16, 0.15, 0.15, 0.13, 0.12, 0.11, 0.10, 0.09, 0.07, 0.05, 0.03, 0.01, 0.01],
    [0.14, 0.14, 0.14, 0.15, 0.17, 0.19, 0.21, 0.22, 0.22, 0.22, 0.22, 0.21, 0.18, 0.14, 0.10, 0.05, 0.03, 0.02, 0.01],
    [0.15, 0.15, 0.14, 0.16, 0.19, 0.22, 0.23, 0.23, 0.21, 0.18, 0.17, 0.14, 0.12, 0.10, 0.08, 0.05, 0.03, 0.02, 0.01],
    [0.10, 0.09, 0.09, 0.11, 0.15, 0.21, 0.25, 0.29, 0.32, 0.30, 0.25, 0.19, 0.15, 0.12, 0.10, 0.08, 0.07, 0.05, 0.04],
    [0.08, 0.07, 0.07, 0.09, 0.12, 0.18, 0.24, 0.28, 0.27, 0.26, 0.24, 0.21, 0.16, 0.11, 0.08, 0.05, 0.03, 0.02, 0.02],
    [0.05, 0.05, 0.06, 0.06, 0.07, 0.09, 0.11, 0.14, 0.19, 0.24, 0.29, 0.31, 0.28, 0.24, 0.19, 0.10, 0.06, 0.04, 0.04],
    [0.03, 0.03, 0.03, 0.04, 0.05, 0.06, 0.08, 0.11, 0.15, 0.21, 0.27, 0.31, 0.32, 0.27, 0.22, 0.10, 0.03, 0.02, 0.01],
    [0.02, 0.03, 0.04, 0.06, 0.07, 0.09, 0.12, 0.15, 0.18, 0.21, 0.23, 0.24, 0.26, 0.25, 0.21, 0.09, 0.04, 0.02, 0.02],
    [0.04, 0.04, 0.05, 0.07, 0.08, 0.10, 0.14, 0.19, 0.23, 0.26, 0.25, 0.23, 0.18, 0.14, 0.11, 0.05, 0.02, 0.01, 0.01],
    [0.06, 0.06, 0.06, 0.07, 0.08, 0.09, 0.11, 0.14, 0.16, 0.19, 0.22, 0.23, 0.22, 0.18, 0.15, 0.09, 0.05, 0.02, 0.02],
    [0.12, 0.12, 0.12, 0.12, 0.12, 0.13, 0.13, 0.15, 0.18, 0.17, 0.16, 0.15, 0.13, 0.11, 0.09, 0.05, 0.02, 0.01, 0.01],
    [0.13, 0.13, 0.14, 0.14, 0.15, 0.16, 0.17, 0.18, 0.17, 0.16, 0.14, 0.12, 0.10, 0.08, 0.07, 0.04, 0.02, 0.01, 0.01],
]
lo_D = [
    [0.14, 0.14, 0.14, 0.14, 0.14, 0.14, 0.14, 0.13, 0.13, 0.11, 0.10, 0.09, 0.08, 0.07, 0.06, 0.04, 0.02, 0.01, 0],
    [0.11, 0.11, 0.11, 0.12, 0.13, 0.14, 0.15, 0.16, 0.16, 0.16, 0.16, 0.14, 0.11, 0.08, 0.05, 0.03, 0.01, 0.01, 0.01],
    [0.11, 0.11, 0.10, 0.12, 0.14, 0.16, 0.17, 0.17, 0.15, 0.14, 0.12, 0.10, 0.08, 0.07, 0.05, 0.03, 0.01, 0.01, 0.01],
    [0.06, 0.05, 0.05, 0.07, 0.10, 0.14, 0.18, 0.22, 0.23, 0.18, 0.06, 0.03, 0.04, 0.05, 0.05, 0.04, 0.04, 0.03, 0.02],
    [0.04, 0.04, 0.04, 0.05, 0.07, 0.10, 0.14, 0.18, 0.18, 0.16, 0.14, 0.11, 0.08, 0.05, 0.04, 0.02, 0.01, 0.01, 0.01],
    [0.03, 0.03, 0.04, 0.04, 0.05, 0.06, 0.08, 0.10, 0.13, 0.16, 0.19, 0.22, 0.19, 0.15, 0.12, 0.06, 0.04, 0.02, 0.02],
    [0.02, 0.02, 0.02, 0.02, 0.03, 0.04, 0.06, 0.09, 0.12, 0.16, 0.22, 0.27, 0.28, 0.23, 0.18, 0.07, 0.02, 0.01, 0],
    [0.01, 0.01, 0.02, 0.03, 0.04, 0.06, 0.08, 0.10, 0.13, 0.14, 0.15, 0.16, 0.18, 0.17, 0.14, 0.05, 0.02, 0.01, 0.01],
    [0.02, 0.02, 0.03, 0.04, 0.05, 0.07, 0.09, 0.12, 0.15, 0.16, 0.15, 0.14, 0.11, 0.08, 0.06, 0.03, 0.01, 0.01, 0],
    [0.04, 0.04, 0.04, 0.05, 0.06, 0.07, 0.09, 0.11, 0.13, 0.16, 0.18, 0.20, 0.18, 0.15, 0.12, 0.07, 0.03, 0.01, 0.01],
    [0.10, 0.10, 0.10, 0.11, 0.11, 0.11, 0.11, 0.13, 0.14, 0.13, 0.11, 0.09, 0.07, 0.06, 0.04, 0.02, 0.01, 0.01, 0],
    [0.10, 0.10, 0.10, 0.11, 0.11, 0.12, 0.13, 0.14, 0.13, 0.11, 0.09, 0.07, 0.05, 0.04, 0.03, 0.01, 0.01, 0, 0],
]
hi_D = [
    [0.18, 0.18, 0.18, 0.18, 0.19, 0.19, 0.22, 0.23, 0.21, 0.17, 0.15, 0.14, 0.12, 0.10, 0.09, 0.06, 0.03, 0.02, 0.01],
    [0.16, 0.16, 0.17, 0.18, 0.22, 0.27, 0.30, 0.31, 0.30, 0.29, 0.28, 0.26, 0.23, 0.21, 0.18, 0.15, 0.15, 0.15, 0.15],
    [0.21, 0.21, 0.19, 0.22, 0.25, 0.28, 0.30, 0.29, 0.27, 0.24, 0.22, 0.19, 0.17, 0.15, 0.13, 0.09, 0.06, 0.04, 0.03],
    [0.14, 0.14, 0.15, 0.19, 0.26, 0.31, 0.38, 0.41, 0.41, 0.37, 0.31, 0.28, 0.26, 0.22, 0.18, 0.14, 0.11, 0.09, 0.08],
    [0.13, 0.11, 0.11, 0.18, 0.31, 0.49, 0.59, 0.51, 0.41, 0.36, 0.32, 0.28, 0.23, 0.18, 0.14, 0.09, 0.05, 0.03, 0.03],
    [0.07, 0.07, 0.08, 0.08, 0.09, 0.11, 0.14, 0.18, 0.25, 0.32, 0.37, 0.38, 0.36, 0.31, 0.26, 0.15, 0.09, 0.06, 0.05],
    [0.04, 0.04, 0.05, 0.05, 0.06, 0.08, 0.10, 0.14, 0.19, 0.26, 0.32, 0.36, 0.37, 0.32, 0.27, 0.15, 0.06, 0.03, 0.03],
    [0.04, 0.05, 0.07, 0.09, 0.11, 0.13, 0.16, 0.21, 0.25, 0.28, 0.31, 0.32, 0.32, 0.31, 0.27, 0.15, 0.08, 0.05, 0.05],
    [0.06, 0.07, 0.09, 0.11, 0.14, 0.19, 0.28, 0.36, 0.38, 0.37, 0.35, 0.31, 0.26, 0.21, 0.15, 0.08, 0.04, 0.02, 0.02],
    [0.08, 0.08, 0.08, 0.09, 0.10, 0.11, 0.14, 0.17, 0.19, 0.22, 0.25, 0.26, 0.25, 0.22, 0.18, 0.12, 0.07, 0.04, 0.03],
    [0.14, 0.14, 0.14, 0.14, 0.14, 0.15, 0.15, 0.18, 0.22, 0.23, 0.23, 0.21, 0.18, 0.15, 0.13, 0.08, 0.04, 0.02, 0.02],
    [0.16, 0.16, 0.17, 0.19, 0.26, 0.32, 0.28, 0.30, 0.27, 0.25, 0.23, 0.21, 0.18, 0.14, 0.11, 0.06, 0.03, 0.02, 0.01],
]
blue_D = [
    [0.45, 0.45, 0.46, 0.46, 0.46, 0.47, 0.47, 0.48, 0.48, 0.49, 0.49, 0.50, 0.50, 0.51, 0.51, 0.52, 0.53, 0.54, 0.55],
    [0.45, 0.45, 0.45, 0.46, 0.46, 0.47, 0.47, 0.48, 0.48, 0.49, 0.49, 0.50, 0.50, 0.51, 0.51, 0.53, 0.54, 0.55, 0.56],
    [0.45, 0.49, 0.50, 0.50, 0.51, 0.51, 0.52, 0.52, 0.53, 0.53, 0.54, 0.54, 0.54, 0.55, 0.55, 0.56, 0.56, 0.57, 0.57],
    [0.46, 0.46, 0.47, 0.47, 0.47, 0.47, 0.48, 0.48, 0.48, 0.48, 0.49, 0.49, 0.49, 0.49, 0.50, 0.50, 0.51, 0.51, 0.52],
    [0.38, 0.43, 0.44, 0.45, 0.46, 0.47, 0.48, 0.49, 0.50, 0.50, 0.51, 0.51, 0.52, 0.52, 0.53, 0.53, 0.54, 0.55, 0.55],
    [0.10, 0.12, 0.22, 0.32, 0.37, 0.41, 0.43, 0.45, 0.46, 0.47, 0.48, 0.49, 0.49, 0.50, 0.50, 0.51, 0.52, 0.53, 0.54],
    [0.03, 0.04, 0.13, 0.26, 0.35, 0.39, 0.43, 0.45, 0.47, 0.48, 0.49, 0.50, 0.51, 0.51, 0.52, 0.53, 0.54, 0.55, 0.55],
    [0.02, 0.03, 0.04, 0.16, 0.29, 0.37, 0.42, 0.45, 0.47, 0.49, 0.49, 0.50, 0.50, 0.51, 0.51, 0.52, 0.52, 0.53, 0.53],
    [0.05, 0.06, 0.10, 0.25, 0.33, 0.38, 0.41, 0.44, 0.46, 0.47, 0.48, 0.49, 0.49, 0.50, 0.50, 0.51, 0.51, 0.52, 0.52],
    [0.12, 0.12, 0.12, 0.13, 0.14, 0.16, 0.19, 0.22, 0.24, 0.25, 0.26, 0.27, 0.27, 0.28, 0.28, 0.29, 0.29, 0.30, 0.30],
    [0.23, 0.23, 0.23, 0.23, 0.23, 0.24, 0.24, 0.26, 0.30, 0.33, 0.35, 0.36, 0.37, 0.38, 0.39, 0.41, 0.42, 0.43, 0.44],
    [0.39, 0.39, 0.39, 0.40, 0.41, 0.41, 0.42, 0.42, 0.43, 0.43, 0.43, 0.44, 0.44, 0.45, 0.45, 0.46, 0.47, 0.48, 0.49],
]

col_width = [1.5, 0.8, 0.6, 0.6]
minor_ticks = [[0.5, 1.0], [0.5], [0.25], [0.25]]
minor_labels = [['0.5', '1'], ['0.5'], ['0.25'], ['0.25']]

W, H = 1300, 888
rects_px = [(67.5, 53.3, 625, 355), (741, 54, 1298, 356),
            (67.5, 531, 625, 831), (741, 531, 1298, 831)]
xlims = [(-0.82, 18.67), (-0.50, 10.0), (-0.40, 7.51), (-0.395, 7.49)]

panels = [
    (depth_A, mean_A, lo_A, hi_A, blue_A, counts_A),
    (depth_B, mean_B, lo_B, hi_B, blue_B, counts_B),
    (depth_C, mean_C, lo_C, hi_C, blue_C, counts_C),
    (depth_D, mean_D, lo_D, hi_D, blue_D, counts_D),
]

fig = plt.figure(figsize=(W / 100, H / 100), dpi=100)

for k, (dep, mn, lo, hi, bl, cnt) in enumerate(panels):
    x0, y0, x1, y1 = rects_px[k]
    ax = fig.add_axes([x0 / W, 1 - y1 / H, (x1 - x0) / W, (y1 - y0) / H])
    w = col_width[k]
    d = np.array(dep, dtype=float)
    for i in range(12):
        off = i * w
        ax.fill_betweenx(d, np.array(lo[i]) + off, np.array(hi[i]) + off,
                         color='#d4d4d4', lw=0, zorder=1)
    for i in range(12):
        ax.axvline(i * w, color='#3a3a3a', lw=0.9, ls=(0, (3.5, 2.5)), zorder=2)
    for i in range(12):
        off = i * w
        ax.plot(np.array(bl[i]) + off, d, color='#2c5db5', lw=1.0, zorder=3)
        ax.plot(np.array(mn[i]) + off, d, color='black', lw=1.2, zorder=4)
        ax.text(off + w / 2, 0, months[i], ha='center', va='center',
                fontsize=11, zorder=5)
        ax.text(off + w / 2, 180, str(cnt[i]), ha='center', va='center',
                fontsize=11.5, color='#5e5e5e', zorder=5)
    ax.set_xlim(*xlims[k])
    ax.set_ylim(207.8, -8.8)
    ax.set_yticks([0, 50, 100, 150, 200])
    ax.set_xticks([i * w for i in range(12)])
    ax.set_xticklabels(['0'] * 12)
    ax.set_xticks([i * w + t for i in range(12) for t in minor_ticks[k]], minor=True)
    ax.set_xticklabels(minor_labels[k] * 12, minor=True)
    ax.tick_params(axis='both', which='both', direction='out', length=5, width=0.8)
    ax.tick_params(axis='x', which='major', labelsize=11, pad=4)
    ax.tick_params(axis='x', which='minor', labelsize=7.5, pad=1.5)
    ax.tick_params(axis='y', labelsize=11, pad=2)
    for s in ax.spines.values():
        s.set_linewidth(0.9)
    ax.set_xlabel('[Chl\u2212a] (mg m$^{-3}$)', fontsize=13)
    ax.xaxis.set_label_coords(0.5, -0.11)
    ax.set_ylabel('depth (m)', fontsize=13)
    ax.yaxis.set_label_coords(-0.067, 0.5)
    cx = (x0 + x1) / 2 / W
    ty = 17 if k < 2 else 493
    fig.text(cx, 1 - ty / H, titles[k], ha='center', va='center',
             fontsize=13, fontweight='bold')

fig.savefig('out.png', dpi=100)
